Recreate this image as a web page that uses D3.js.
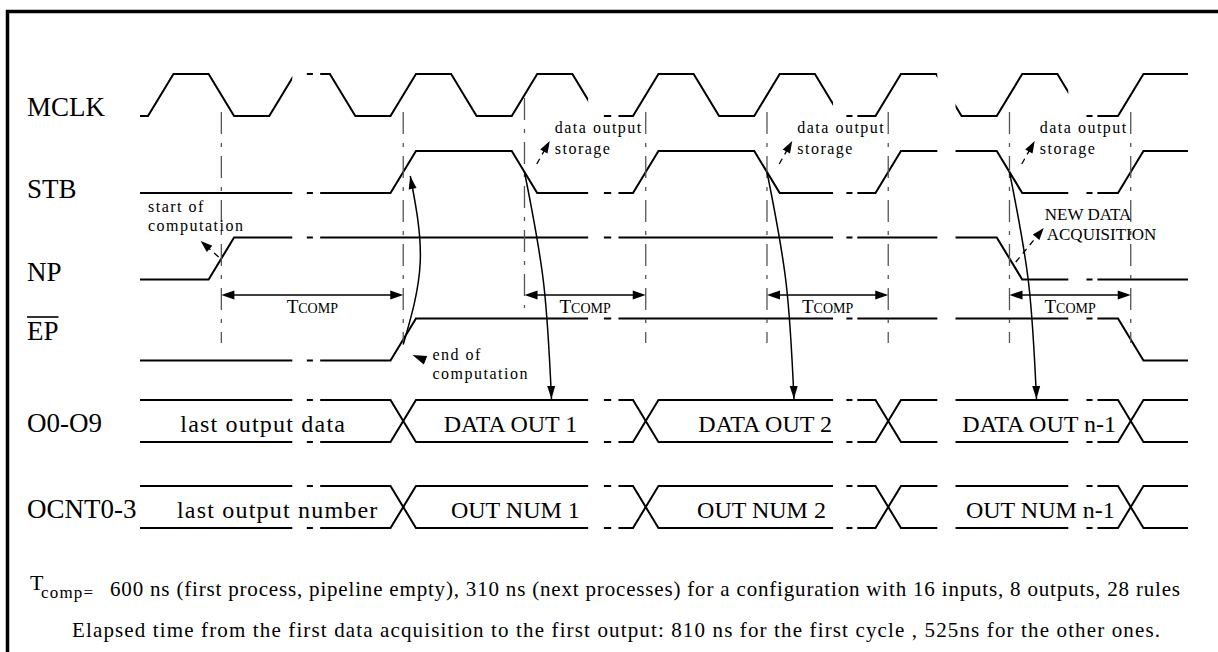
<!DOCTYPE html>
<html><head><meta charset="utf-8">
<script src="https://cdn.jsdelivr.net/npm/d3@7"></script>
<style>
html,body{margin:0;padding:0;background:#fff;}
svg{display:block;}
text{font-family:"Liberation Serif","Times New Roman",serif;fill:#000;}
</style></head><body>
<svg id="chart" width="1218" height="652"></svg>
<script>
// ---------------- data (times in MCLK cycles) ----------------
const signalNames = ["MCLK","STB","NP","EP","O0-O9","OCNT0-3"];
const mclkRises = [0,1,2,3,4,5,6,7,8];
const mclkFalls = [0.5,1.5,2.5,3.5,4.5,5.5,6.5,7.5];
const stbEdges = [[2,1],[3,0],[4,1],[5,0],[6,1],[7,0],[8,1]];
const npEdges = [[0.5,1],[7,0]];
const epEdges = [[2,1],[8,0]];
const busTransitions = [2,4,6,8];
const dataLabels = ["last output data","DATA OUT 1","DATA OUT 2","DATA OUT n-1"];
const dataLabelTimes = [0.95,2.99,5.09,7.35];
const numLabels = ["last output number","OUT NUM 1","OUT NUM 2","OUT NUM n-1"];
const numLabelTimes = [1.07,3.03,5.06,7.36];
const markerTimes = [0.5,2,3,4,5,6,7,8];
const tcompSpans = [[0,1],[2,3],[4,5],[6,7]];
const storageTimes = [3,5,7];
const breaks = [[1.19,1.42,1.31,1.36],[3.63,3.88,3.76,3.82],[5.65,5.85,5.76,5.81],[6.51,6.66,null,null],[7.59,7.83,7.74,7.79]];
const timeRange = [-0.066, 8.577];
const edgeTime = 0.21;
const footnote1 = "600 ns (first process, pipeline empty), 310 ns (next processes) for a configuration with 16 inputs, 8 outputs, 28 rules";
const footnote2 = "Elapsed time from the first data acquisition to the first output: 810 ns for the first cycle , 525ns for the other ones.";

// ---------------- layout ----------------
const svg = d3.select("#chart");
const x = d3.scaleLinear().domain([0,8]).range([148,1118]);
const rowY = d3.scaleOrdinal().domain(signalNames).range([95,172,258.5,339.5,421,507]);
const half = 21;
const lvl = (name,v) => rowY(name) + (v ? -half : half);
const mid = t => x(t + edgeTime/2);

// frame
svg.append("path").attr("d","M7.5,660 V11.5 H1230").attr("fill","none").attr("stroke","#000").attr("stroke-width",3.5);

// clip for time breaks
const defs = svg.append("defs");
const clip = defs.append("clipPath").attr("id","brk");
let segs = []; let s0 = x(timeRange[0]) - 5;
breaks.forEach(b => { segs.push([s0, x(b[0])]); if (b[2] != null) segs.push([x(b[2]), x(b[3])]); s0 = x(b[1]); });
segs.push([s0, x(timeRange[1]) + 5]);
clip.selectAll("rect").data(segs).join("rect")
  .attr("x", d => d[0]).attr("width", d => d[1]-d[0]).attr("y", 0).attr("height", 652);

function wavePts(edges, init){
  const pts = [[timeRange[0], init]]; let cur = init;
  edges.forEach(([t,v]) => { pts.push([t,cur]); pts.push([t+edgeTime, v]); cur = v; });
  pts.push([timeRange[1], cur]);
  return pts;
}
const line = d3.line();
const mclkEdges = mclkRises.map(t=>[t,1]).concat(mclkFalls.map(t=>[t,0])).sort((a,b)=>a[0]-b[0]);
const waves = [["MCLK",mclkEdges,0],["STB",stbEdges,0],["NP",npEdges,0],["EP",epEdges,0]];
const busA = busTransitions.map((t,i)=>[t, i%2 ? 1 : 0]);
const busB = busTransitions.map((t,i)=>[t, i%2 ? 0 : 1]);
["O0-O9","OCNT0-3"].forEach(n => { waves.push([n,busA,1]); waves.push([n,busB,0]); });

const gw = svg.append("g").attr("clip-path","url(#brk)");
gw.selectAll("path").data(waves).join("path")
  .attr("d", ([name,edges,init]) => line(wavePts(edges,init).map(([t,v]) => [x(t), lvl(name,v)])))
  .attr("fill","none").attr("stroke","#000").attr("stroke-width",2).attr("stroke-linejoin","miter");

// signal labels
const labelBase = {"MCLK":116,"STB":198,"NP":281,"EP":340,"O0-O9":432,"OCNT0-3":518};
const lab = svg.append("g").attr("font-size",27);
signalNames.forEach(n => {
  const t = lab.append("text").attr("x",27).attr("y",labelBase[n]).text(n);
  if (n === "EP") {
    const w = t.node().getComputedTextLength();
    lab.append("line").attr("x1",27).attr("x2",27+w).attr("y1",labelBase[n]-23).attr("y2",labelBase[n]-23)
      .attr("stroke","#000").attr("stroke-width",1.6);
  }
});

// bus labels
const bl = svg.append("g").attr("font-size",24).attr("text-anchor","middle");
const ls = d => /^[a-z]/.test(d) ? 1.2 : 0;
dataLabels.forEach((d,i)=> bl.append("text").attr("x",x(dataLabelTimes[i])).attr("y",rowY("O0-O9")+11).attr("letter-spacing",ls(d)).text(d));
numLabels.forEach((d,i)=> bl.append("text").attr("x",x(numLabelTimes[i])).attr("y",rowY("OCNT0-3")+11).attr("letter-spacing",ls(d)).text(d));

// vertical markers
svg.append("g").selectAll("line").data(markerTimes).join("line")
  .attr("x1", d=>mid(d)).attr("x2", d=>mid(d))
  .attr("y1", (d,i)=> i===2 ? 98 : 112).attr("y2", (d,i)=> i===2 ? 308 : 343)
  .attr("stroke","#555").attr("stroke-width",1.3).attr("stroke-dasharray","22,9,4,9");

// arrowhead helper
function head(g, tip, from, len, hw){
  const dx = tip[0]-from[0], dy = tip[1]-from[1], L = Math.hypot(dx,dy);
  const ux = dx/L, uy = dy/L;
  const bx = tip[0]-ux*len, by = tip[1]-uy*len;
  g.append("path").attr("d", `M${tip[0]},${tip[1]}L${bx-uy*hw},${by+ux*hw}L${bx+uy*hw},${by-ux*hw}Z`).attr("fill","#000");
}

// Tcomp arrows
const ta = svg.append("g");
const arrowY = 295;
tcompSpans.forEach(([a,b]) => {
  const x1 = mid(markerTimes[a]), x2 = mid(markerTimes[b]);
  ta.append("line").attr("x1",x1+8).attr("x2",x2-8).attr("y1",arrowY).attr("y2",arrowY).attr("stroke","#000").attr("stroke-width",1.5);
  head(ta,[x1,arrowY],[x2,arrowY],13,4.5);
  head(ta,[x2,arrowY],[x1,arrowY],13,4.5);
  const t = ta.append("text").attr("x",(x1+x2)/2).attr("y",arrowY+18).attr("text-anchor","middle");
  t.append("tspan").attr("font-size",19).text("T");
  t.append("tspan").attr("font-size",14).text("COMP");
});

// curved arrows STB -> bus
const ca = svg.append("g");
const curve = d3.line().curve(d3.curveNatural);
storageTimes.forEach(t => {
  const sx = mid(t), sy = rowY("STB");
  const pts = [[sx,sy],[sx+19,282],[sx+27,rowY("O0-O9")-half-1]];
  ca.append("path").attr("d",curve(pts)).attr("fill","none").attr("stroke","#000").attr("stroke-width",1.5);
  head(ca, pts[2], [sx+26.3, 370], 13, 4);
});
// EP -> STB curved arrow
{
  const sx = mid(epEdges[0][0]);
  const pts = [[sx, rowY("EP")+5],[sx+17, 262],[sx+7, rowY("STB")+4]];
  ca.append("path").attr("d",curve(pts)).attr("fill","none").attr("stroke","#000").attr("stroke-width",1.5);
  head(ca, pts[2], [sx+11.5, 200], 13, 4);
}

// annotation arrows (dashed tails)
const an = svg.append("g");
function dashArrow(tail, tip){
  const dx = tip[0]-tail[0], dy = tip[1]-tail[1], L = Math.hypot(dx,dy);
  const bx = tip[0]-dx/L*11, by = tip[1]-dy/L*11;
  an.append("line").attr("x1",tail[0]).attr("y1",tail[1]).attr("x2",bx).attr("y2",by)
    .attr("stroke","#000").attr("stroke-width",1.3).attr("stroke-dasharray","6,5");
  head(an, tip, tail, 12, 4.2);
}
storageTimes.forEach(t => dashArrow([x(t)+25, 164],[x(t)+38, 141]));
dashArrow([x(7)+19, 262],[x(7)+47, 228]);
dashArrow([x(0.5)+10, 257],[x(0.5)-8, 241]);
head(an, [x(2)+22, 355], [x(2)+37, 361], 14, 4.5);

const at = svg.append("g").attr("font-size",16).attr("letter-spacing",1.5);
storageTimes.forEach(t => {
  at.append("text").attr("x",x(t)+43).attr("y",133).text("data output");
  at.append("text").attr("x",x(t)+43).attr("y",154).text("storage");
});
at.append("text").attr("x",x(0)).attr("y",212).text("start of");
at.append("text").attr("x",x(0)).attr("y",231).text("computation");
at.append("text").attr("x",x(2)+42).attr("y",360).text("end of");
at.append("text").attr("x",x(2)+42).attr("y",379).text("computation");
const nd = svg.append("g").attr("font-size",17);
nd.append("text").attr("x",x(7)+48).attr("y",220).text("NEW DATA");
nd.append("text").attr("x",x(7)+50).attr("y",240).text("ACQUISITION");

// footnotes
const fn = svg.append("g");
fn.append("text").attr("x",30).attr("y",590).attr("font-size",22).text("T");
fn.append("text").attr("x",41).attr("y",598).attr("font-size",17).attr("letter-spacing",1.2).text("comp=");
fn.append("text").attr("x",110).attr("y",596).attr("font-size",21)
  .attr("textLength",1070).attr("lengthAdjust","spacing").text(footnote1);
fn.append("text").attr("x",72).attr("y",637).attr("font-size",21)
  .attr("textLength",1088).attr("lengthAdjust","spacing").text(footnote2);
</script>
</body></html>
